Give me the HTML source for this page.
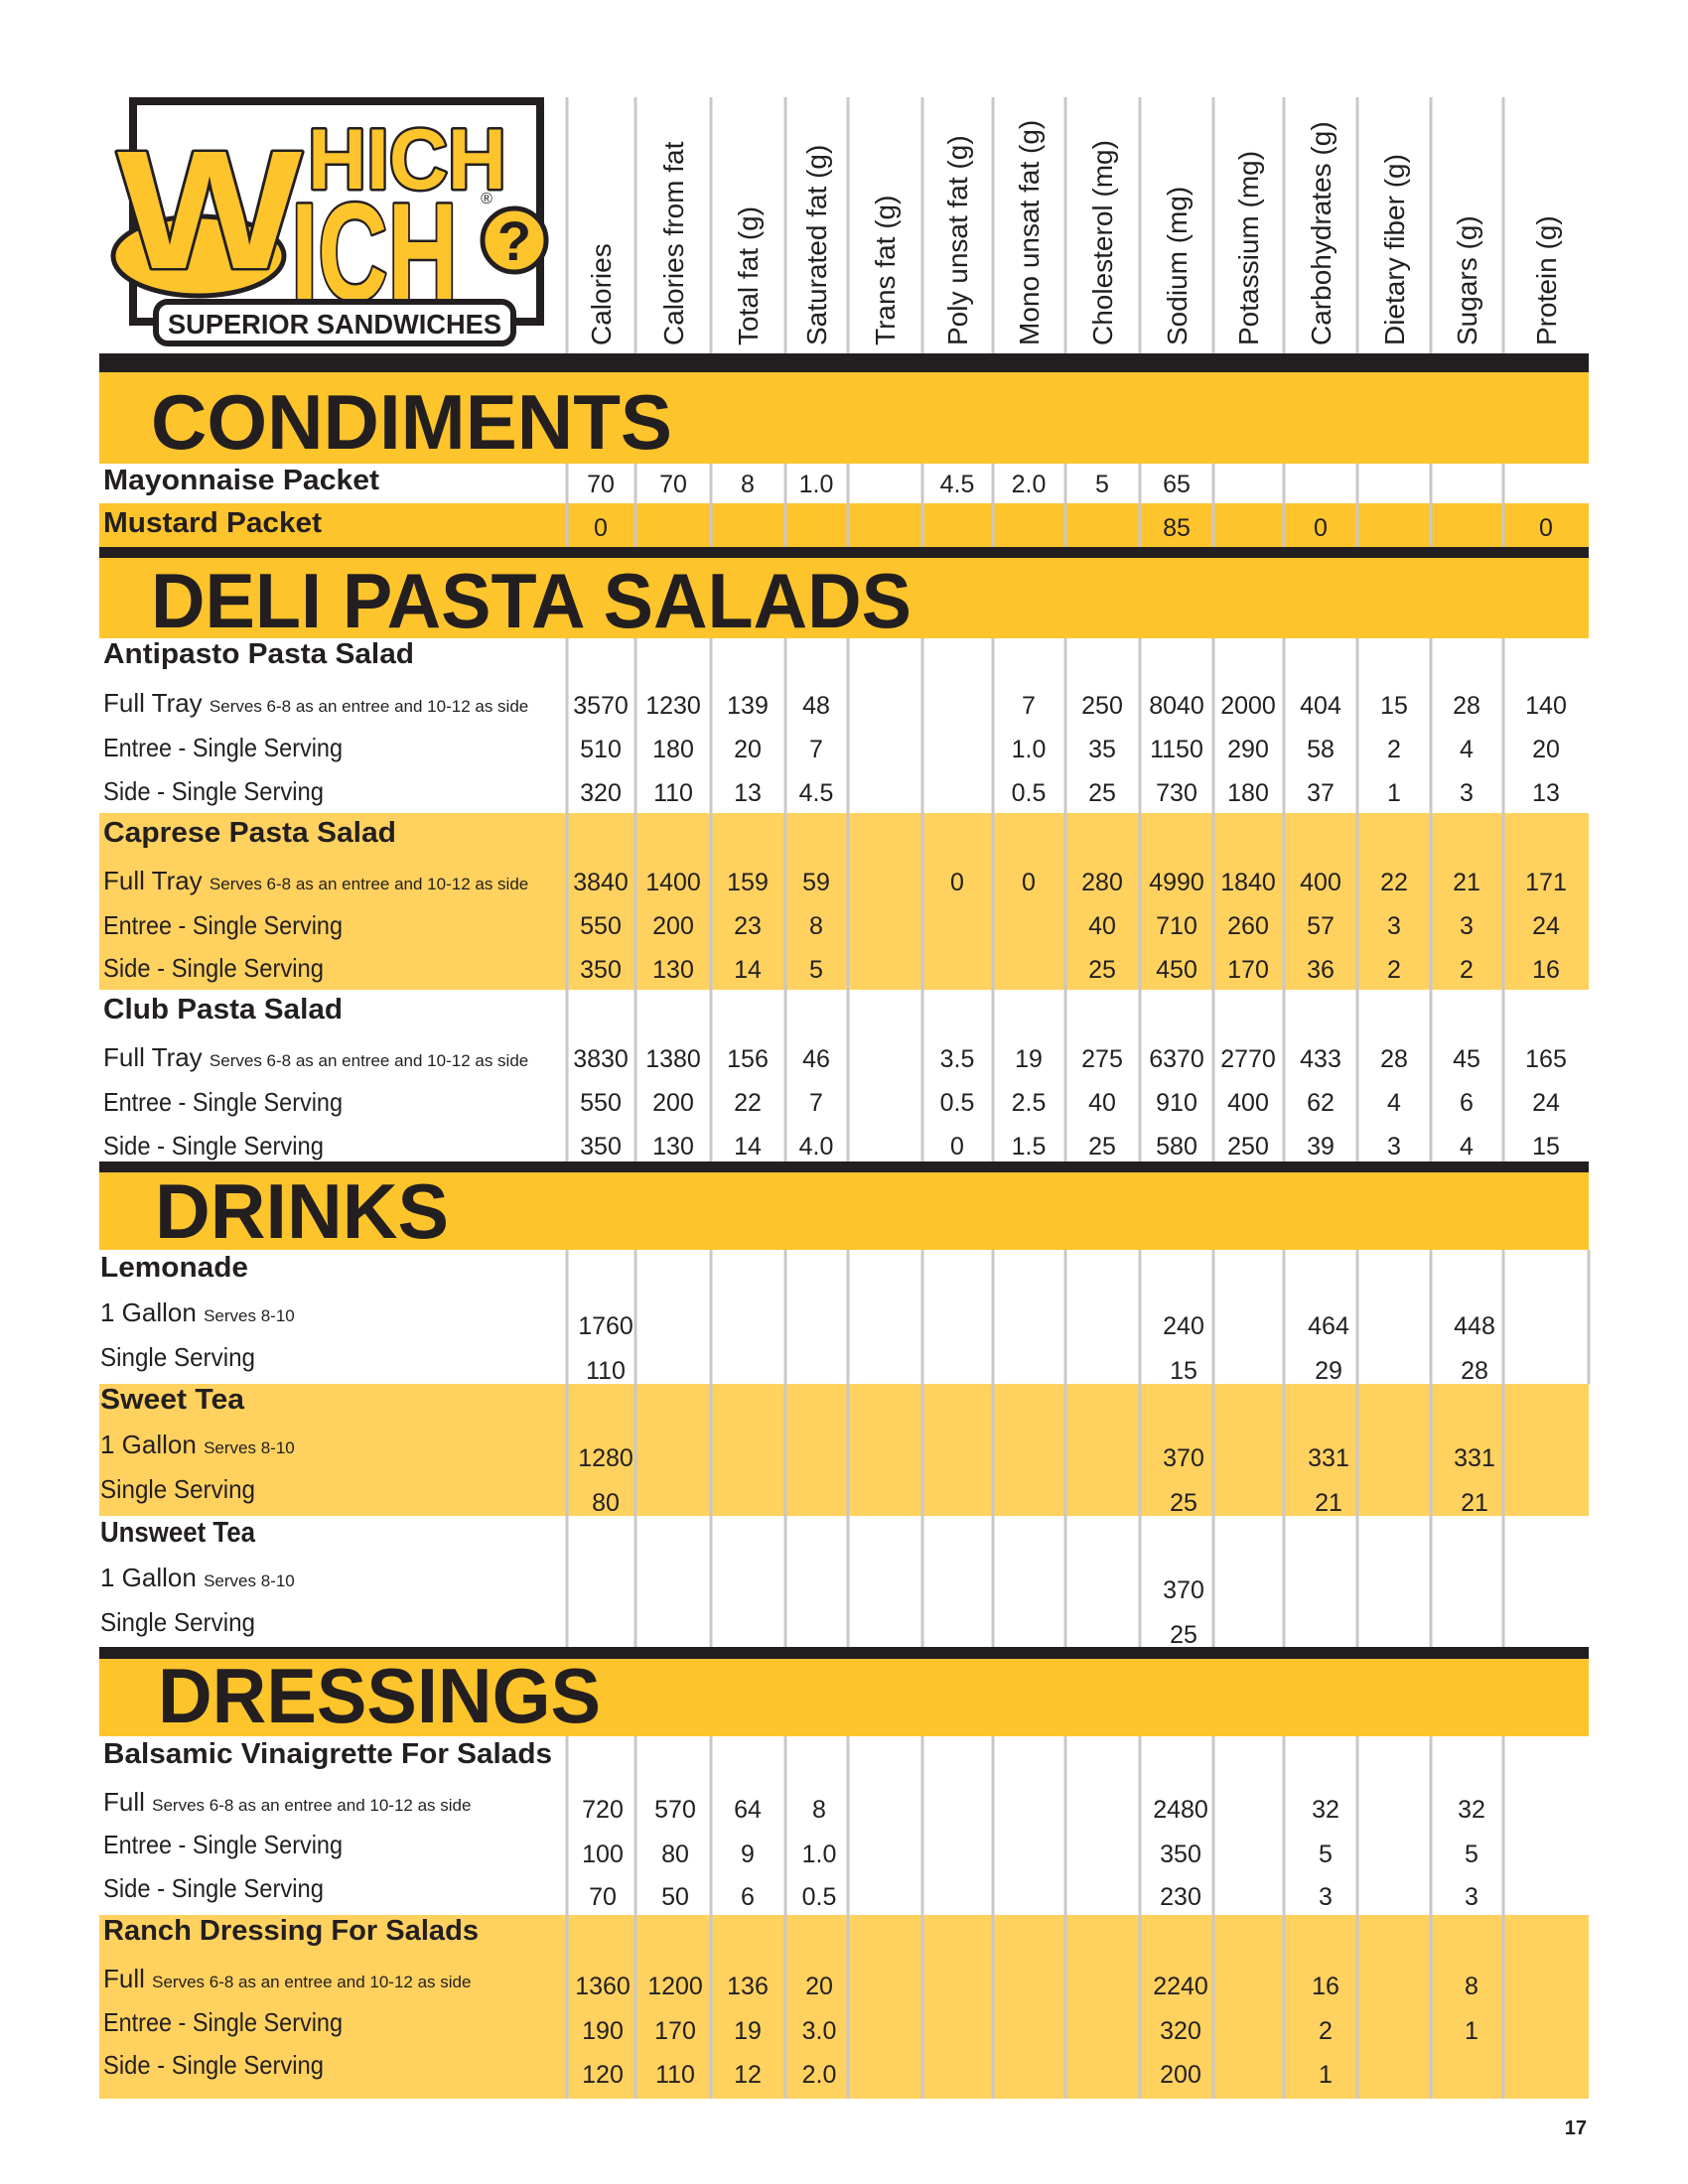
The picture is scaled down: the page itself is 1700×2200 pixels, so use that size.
<!DOCTYPE html>
<html><head><meta charset="utf-8"><style>
html,body{margin:0;padding:0;background:#fff}
svg{display:block}
.c{font-family:"Liberation Sans",sans-serif;font-size:28px;fill:#231f20}
.n{font-family:"Liberation Sans",sans-serif;font-size:25px;fill:#231f20;text-anchor:middle}
.t{font-family:"Liberation Sans",sans-serif;font-weight:bold;font-size:29px;fill:#231f20}
.s{font-family:"Liberation Sans",sans-serif;font-size:26px;fill:#231f20}
.x{font-family:"Liberation Sans",sans-serif;font-size:17px;fill:#231f20}
.H{font-family:"Liberation Sans",sans-serif;font-weight:bold;font-size:78px;fill:#231f20}
.L{font-family:"Liberation Sans",sans-serif;font-weight:bold;fill:#fec42c;stroke:#231f20;stroke-width:5;paint-order:stroke;stroke-linejoin:round}
</style></head><body>
<svg width="1700" height="2200" viewBox="0 0 1700 2200" xmlns="http://www.w3.org/2000/svg">
<rect x="100" y="375" width="1500" height="92" fill="#fec42c"/>
<rect x="100" y="507" width="1500" height="44" fill="#fec42c"/>
<rect x="100" y="562" width="1500" height="81" fill="#fec42c"/>
<rect x="100" y="819" width="1500" height="178" fill="#ffd15f"/>
<rect x="100" y="1181" width="1500" height="78" fill="#fec42c"/>
<rect x="100" y="1394" width="1500" height="133" fill="#ffd15f"/>
<rect x="100" y="1671" width="1500" height="78" fill="#fec42c"/>
<rect x="100" y="1929" width="1500" height="185" fill="#ffd15f"/>
<g stroke="#c8c8c8" stroke-width="3">
<path d="M571 98V356M640 98V356M716 98V356M791 98V356M854 98V356M929 98V356M1000 98V356M1073 98V356M1148 98V356M1222 98V356M1293 98V356M1367 98V356M1441 98V356M1514 98V356"/>
<path d="M571 467V551M640 467V551M716 467V551M791 467V551M854 467V551M929 467V551M1000 467V551M1073 467V551M1148 467V551M1222 467V551M1293 467V551M1367 467V551M1441 467V551M1514 467V551"/>
<path d="M571 643V1170M640 643V1170M716 643V1170M791 643V1170M854 643V1170M929 643V1170M1000 643V1170M1073 643V1170M1148 643V1170M1222 643V1170M1293 643V1170M1367 643V1170M1441 643V1170M1514 643V1170"/>
<path d="M571 1259V1659M640 1259V1659M716 1259V1659M791 1259V1659M854 1259V1659M929 1259V1659M1000 1259V1659M1073 1259V1659M1148 1259V1659M1222 1259V1659M1293 1259V1659M1367 1259V1659M1441 1259V1659M1514 1259V1659M1600 1259V1394"/>
<path d="M571 1749V2114M640 1749V2114M716 1749V2114M791 1749V2114M854 1749V2114M929 1749V2114M1000 1749V2114M1073 1749V2114M1148 1749V2114M1222 1749V2114M1293 1749V2114M1367 1749V2114M1441 1749V2114M1514 1749V2114"/>
</g>
<rect x="100" y="356" width="1500" height="19" fill="#231f20"/>
<rect x="100" y="551" width="1500" height="11" fill="#231f20"/>
<rect x="100" y="1170" width="1500" height="11" fill="#231f20"/>
<rect x="100" y="1659" width="1500" height="12" fill="#231f20"/>
<text class="H" x="152" y="452" textLength="525" lengthAdjust="spacingAndGlyphs">CONDIMENTS</text>
<text class="H" x="152" y="632" textLength="766" lengthAdjust="spacingAndGlyphs">DELI PASTA SALADS</text>
<text class="H" x="156" y="1247" textLength="296" lengthAdjust="spacingAndGlyphs">DRINKS</text>
<text class="H" x="159" y="1735" textLength="446" lengthAdjust="spacingAndGlyphs">DRESSINGS</text>
<g class="c">
<text transform="translate(615,348) rotate(-90)">Calories</text>
<text transform="translate(688,348) rotate(-90)">Calories from fat</text>
<text transform="translate(763,348) rotate(-90)">Total fat (g)</text>
<text transform="translate(832,348) rotate(-90)">Saturated fat (g)</text>
<text transform="translate(901,348) rotate(-90)">Trans fat (g)</text>
<text transform="translate(974,348) rotate(-90)">Poly unsat fat (g)</text>
<text transform="translate(1046,348) rotate(-90)">Mono unsat fat (g)</text>
<text transform="translate(1120,348) rotate(-90)">Cholesterol (mg)</text>
<text transform="translate(1195,348) rotate(-90)">Sodium (mg)</text>
<text transform="translate(1267,348) rotate(-90)">Potassium (mg)</text>
<text transform="translate(1340,348) rotate(-90)">Carbohydrates (g)</text>
<text transform="translate(1414,348) rotate(-90)">Dietary fiber (g)</text>
<text transform="translate(1487,348) rotate(-90)">Sugars (g)</text>
<text transform="translate(1567,348) rotate(-90)">Protein (g)</text>
</g>
<rect x="134" y="102" width="410" height="222" fill="#fff" stroke="#231f20" stroke-width="8"/>
<ellipse cx="200" cy="258" rx="86" ry="40" fill="#fec42c" stroke="#231f20" stroke-width="5"/>
<text class="L" x="118" y="270" font-size="170" textLength="186" lengthAdjust="spacingAndGlyphs">W</text>
<text class="L" x="310" y="190" font-size="86" textLength="200" lengthAdjust="spacingAndGlyphs">HICH</text>
<text class="L" x="293" y="302" font-size="140" textLength="168" lengthAdjust="spacingAndGlyphs">ICH</text>
<circle cx="518" cy="242" r="32" fill="#fec42c" stroke="#231f20" stroke-width="5"/>
<text x="518" y="262" font-family="Liberation Sans" font-weight="bold" font-size="56" text-anchor="middle" fill="#231f20">?</text>
<text x="490" y="205" font-family="Liberation Sans" font-size="16" text-anchor="middle" fill="#231f20">®</text>
<rect x="157" y="304" width="360" height="42" rx="12" fill="#fff" stroke="#231f20" stroke-width="6"/>
<text x="337" y="336" font-family="Liberation Sans" font-weight="bold" font-size="28" text-anchor="middle" fill="#231f20" textLength="336" lengthAdjust="spacingAndGlyphs">SUPERIOR SANDWICHES</text>
<text class="t" x="104" y="493" textLength="278" lengthAdjust="spacingAndGlyphs">Mayonnaise Packet</text>
<text class="t" x="104" y="536" textLength="220" lengthAdjust="spacingAndGlyphs">Mustard Packet</text>
<text class="t" x="104" y="668" textLength="313" lengthAdjust="spacingAndGlyphs">Antipasto Pasta Salad</text>
<text class="s" x="104" y="717">Full Tray <tspan class="x">Serves 6-8 as an entree  and 10-12 as side</tspan></text>
<text class="s" x="104" y="762" textLength="241" lengthAdjust="spacingAndGlyphs">Entree - Single Serving</text>
<text class="s" x="104" y="806" textLength="222" lengthAdjust="spacingAndGlyphs">Side - Single Serving</text>
<text class="t" x="104" y="848" textLength="295" lengthAdjust="spacingAndGlyphs">Caprese Pasta Salad</text>
<text class="s" x="104" y="896">Full Tray <tspan class="x">Serves 6-8 as an entree  and 10-12 as side</tspan></text>
<text class="s" x="104" y="941" textLength="241" lengthAdjust="spacingAndGlyphs">Entree - Single Serving</text>
<text class="s" x="104" y="984" textLength="222" lengthAdjust="spacingAndGlyphs">Side - Single Serving</text>
<text class="t" x="104" y="1026" textLength="241" lengthAdjust="spacingAndGlyphs">Club Pasta Salad</text>
<text class="s" x="104" y="1074">Full Tray <tspan class="x">Serves 6-8 as an entree  and 10-12 as side</tspan></text>
<text class="s" x="104" y="1119" textLength="241" lengthAdjust="spacingAndGlyphs">Entree - Single Serving</text>
<text class="s" x="104" y="1163" textLength="222" lengthAdjust="spacingAndGlyphs">Side - Single Serving</text>
<text class="t" x="101" y="1286" textLength="149" lengthAdjust="spacingAndGlyphs">Lemonade</text>
<text class="s" x="101" y="1331">1 Gallon <tspan class="x">Serves 8-10</tspan></text>
<text class="s" x="101" y="1376" textLength="156" lengthAdjust="spacingAndGlyphs">Single Serving</text>
<text class="t" x="101" y="1419" textLength="145" lengthAdjust="spacingAndGlyphs">Sweet Tea</text>
<text class="s" x="101" y="1464">1 Gallon <tspan class="x">Serves 8-10</tspan></text>
<text class="s" x="101" y="1509" textLength="156" lengthAdjust="spacingAndGlyphs">Single Serving</text>
<text class="t" x="101" y="1553" textLength="156" lengthAdjust="spacingAndGlyphs">Unsweet Tea</text>
<text class="s" x="101" y="1598">1 Gallon <tspan class="x">Serves 8-10</tspan></text>
<text class="s" x="101" y="1643" textLength="156" lengthAdjust="spacingAndGlyphs">Single Serving</text>
<text class="t" x="104" y="1776" textLength="452" lengthAdjust="spacingAndGlyphs">Balsamic Vinaigrette For Salads</text>
<text class="s" x="104" y="1824">Full <tspan class="x">Serves 6-8 as an entree  and 10-12 as side</tspan></text>
<text class="s" x="104" y="1867" textLength="241" lengthAdjust="spacingAndGlyphs">Entree - Single Serving</text>
<text class="s" x="104" y="1911" textLength="222" lengthAdjust="spacingAndGlyphs">Side - Single Serving</text>
<text class="t" x="104" y="1954" textLength="378" lengthAdjust="spacingAndGlyphs">Ranch Dressing For Salads</text>
<text class="s" x="104" y="2002">Full <tspan class="x">Serves 6-8 as an entree  and 10-12 as side</tspan></text>
<text class="s" x="104" y="2046" textLength="241" lengthAdjust="spacingAndGlyphs">Entree - Single Serving</text>
<text class="s" x="104" y="2089" textLength="222" lengthAdjust="spacingAndGlyphs">Side - Single Serving</text>
<g class="n">
<text x="605" y="496">70</text><text x="678" y="496">70</text><text x="753" y="496">8</text><text x="822" y="496">1.0</text><text x="964" y="496">4.5</text><text x="1036" y="496">2.0</text><text x="1110" y="496">5</text><text x="1185" y="496">65</text>
<text x="605" y="540">0</text><text x="1185" y="540">85</text><text x="1330" y="540">0</text><text x="1557" y="540">0</text>
<text x="605" y="719">3570</text><text x="678" y="719">1230</text><text x="753" y="719">139</text><text x="822" y="719">48</text><text x="1036" y="719">7</text><text x="1110" y="719">250</text><text x="1185" y="719">8040</text><text x="1257" y="719">2000</text><text x="1330" y="719">404</text><text x="1404" y="719">15</text><text x="1477" y="719">28</text><text x="1557" y="719">140</text>
<text x="605" y="763">510</text><text x="678" y="763">180</text><text x="753" y="763">20</text><text x="822" y="763">7</text><text x="1036" y="763">1.0</text><text x="1110" y="763">35</text><text x="1185" y="763">1150</text><text x="1257" y="763">290</text><text x="1330" y="763">58</text><text x="1404" y="763">2</text><text x="1477" y="763">4</text><text x="1557" y="763">20</text>
<text x="605" y="807">320</text><text x="678" y="807">110</text><text x="753" y="807">13</text><text x="822" y="807">4.5</text><text x="1036" y="807">0.5</text><text x="1110" y="807">25</text><text x="1185" y="807">730</text><text x="1257" y="807">180</text><text x="1330" y="807">37</text><text x="1404" y="807">1</text><text x="1477" y="807">3</text><text x="1557" y="807">13</text>
<text x="605" y="897">3840</text><text x="678" y="897">1400</text><text x="753" y="897">159</text><text x="822" y="897">59</text><text x="964" y="897">0</text><text x="1036" y="897">0</text><text x="1110" y="897">280</text><text x="1185" y="897">4990</text><text x="1257" y="897">1840</text><text x="1330" y="897">400</text><text x="1404" y="897">22</text><text x="1477" y="897">21</text><text x="1557" y="897">171</text>
<text x="605" y="941">550</text><text x="678" y="941">200</text><text x="753" y="941">23</text><text x="822" y="941">8</text><text x="1110" y="941">40</text><text x="1185" y="941">710</text><text x="1257" y="941">260</text><text x="1330" y="941">57</text><text x="1404" y="941">3</text><text x="1477" y="941">3</text><text x="1557" y="941">24</text>
<text x="605" y="985">350</text><text x="678" y="985">130</text><text x="753" y="985">14</text><text x="822" y="985">5</text><text x="1110" y="985">25</text><text x="1185" y="985">450</text><text x="1257" y="985">170</text><text x="1330" y="985">36</text><text x="1404" y="985">2</text><text x="1477" y="985">2</text><text x="1557" y="985">16</text>
<text x="605" y="1075">3830</text><text x="678" y="1075">1380</text><text x="753" y="1075">156</text><text x="822" y="1075">46</text><text x="964" y="1075">3.5</text><text x="1036" y="1075">19</text><text x="1110" y="1075">275</text><text x="1185" y="1075">6370</text><text x="1257" y="1075">2770</text><text x="1330" y="1075">433</text><text x="1404" y="1075">28</text><text x="1477" y="1075">45</text><text x="1557" y="1075">165</text>
<text x="605" y="1119">550</text><text x="678" y="1119">200</text><text x="753" y="1119">22</text><text x="822" y="1119">7</text><text x="964" y="1119">0.5</text><text x="1036" y="1119">2.5</text><text x="1110" y="1119">40</text><text x="1185" y="1119">910</text><text x="1257" y="1119">400</text><text x="1330" y="1119">62</text><text x="1404" y="1119">4</text><text x="1477" y="1119">6</text><text x="1557" y="1119">24</text>
<text x="605" y="1163">350</text><text x="678" y="1163">130</text><text x="753" y="1163">14</text><text x="822" y="1163">4.0</text><text x="964" y="1163">0</text><text x="1036" y="1163">1.5</text><text x="1110" y="1163">25</text><text x="1185" y="1163">580</text><text x="1257" y="1163">250</text><text x="1330" y="1163">39</text><text x="1404" y="1163">3</text><text x="1477" y="1163">4</text><text x="1557" y="1163">15</text>
<text x="610" y="1344">1760</text><text x="1192" y="1344">240</text><text x="1338" y="1344">464</text><text x="1485" y="1344">448</text>
<text x="610" y="1389">110</text><text x="1192" y="1389">15</text><text x="1338" y="1389">29</text><text x="1485" y="1389">28</text>
<text x="610" y="1477">1280</text><text x="1192" y="1477">370</text><text x="1338" y="1477">331</text><text x="1485" y="1477">331</text>
<text x="610" y="1522">80</text><text x="1192" y="1522">25</text><text x="1338" y="1522">21</text><text x="1485" y="1522">21</text>
<text x="1192" y="1610">370</text>
<text x="1192" y="1655">25</text>
<text x="607" y="1831">720</text><text x="680" y="1831">570</text><text x="753" y="1831">64</text><text x="825" y="1831">8</text><text x="1189" y="1831">2480</text><text x="1335" y="1831">32</text><text x="1482" y="1831">32</text>
<text x="607" y="1876">100</text><text x="680" y="1876">80</text><text x="753" y="1876">9</text><text x="825" y="1876">1.0</text><text x="1189" y="1876">350</text><text x="1335" y="1876">5</text><text x="1482" y="1876">5</text>
<text x="607" y="1919">70</text><text x="680" y="1919">50</text><text x="753" y="1919">6</text><text x="825" y="1919">0.5</text><text x="1189" y="1919">230</text><text x="1335" y="1919">3</text><text x="1482" y="1919">3</text>
<text x="607" y="2009">1360</text><text x="680" y="2009">1200</text><text x="753" y="2009">136</text><text x="825" y="2009">20</text><text x="1189" y="2009">2240</text><text x="1335" y="2009">16</text><text x="1482" y="2009">8</text>
<text x="607" y="2054">190</text><text x="680" y="2054">170</text><text x="753" y="2054">19</text><text x="825" y="2054">3.0</text><text x="1189" y="2054">320</text><text x="1335" y="2054">2</text><text x="1482" y="2054">1</text>
<text x="607" y="2098">120</text><text x="680" y="2098">110</text><text x="753" y="2098">12</text><text x="825" y="2098">2.0</text><text x="1189" y="2098">200</text><text x="1335" y="2098">1</text>
</g>
<text x="1598" y="2150" font-family="Liberation Sans" font-weight="bold" font-size="20" text-anchor="end" fill="#231f20">17</text>
</svg>
</body></html>
